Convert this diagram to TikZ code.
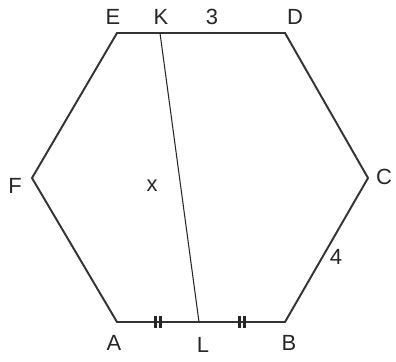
\documentclass[tikz,border=0pt]{standalone}
\usepackage{fontspec}
\setmainfont{Liberation Sans}
\usetikzlibrary{calc,positioning}

\begin{document}
\begin{tikzpicture}[
    x=0.02cm, y=-0.02cm,
    font=\fontsize{12.5}{14}\selectfont,
    edge/.style={draw=black!80, line width=1.1pt, line join=miter},
    chord/.style={draw=black!85, line width=0.6pt},
    lbl/.style={inner sep=0pt, text=black!85},
    tick/.style={draw=black!85, line width=1.2pt}
]
    \useasboundingbox (0,0) rectangle (396,362);

    % hexagon corners
    \coordinate (A) at (117,322);
    \coordinate (B) at (285,322);
    \coordinate (C) at (368,178);
    \coordinate (D) at (285,33);
    \coordinate (E) at (117,33);
    \coordinate (F) at (32,178);
    \coordinate (K) at (160,33);
    \coordinate (L) at (199,322);

    \draw[edge] (A) -- (B) -- (C) -- (D) -- (E) -- (F) -- cycle;
    \draw[chord] (K) -- (L);

    % equal marks on AB
    \foreach \p/\q in {A/L, L/B} {
        \coordinate (m) at ($(\p)!0.5!(\q)$);
        \draw[tick] ($(m)+(-2.5,-6)$) -- ($(m)+(-2.5,6)$);
        \draw[tick] ($(m)+(2.5,-6)$) -- ($(m)+(2.5,6)$);
    }

    \node[lbl] (lE) at (113,17) {E};
    \node[lbl] (lK) at (161,17) {K};
    \node[lbl] (l3) at (212,17) {3};
    \node[lbl] (lD) at (295,17) {D};
    \node[lbl] (lC) at (384,177) {C};
    \node[lbl] (l4) at (336,257) {4};
    \node[lbl] (lB) at (289,343) {B};
    \node[lbl] (lL) at (203,345) {L};
    \node[lbl] (lA) at (114,343) {A};
    \node[lbl] (lF) at (15,186) {F};
    \node[lbl] (lx) at (152,186) {x};

\end{tikzpicture}
\end{document}
